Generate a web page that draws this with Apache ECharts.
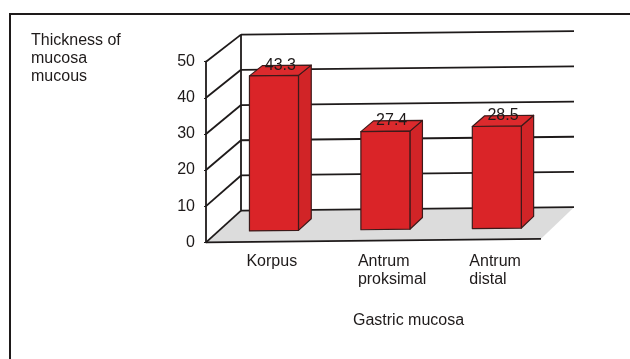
<!DOCTYPE html>
<html>
<head>
<meta charset="utf-8">
<script src="https://cdn.jsdelivr.net/npm/echarts@6/dist/echarts.min.js"></script>
<style>
  html, body { margin: 0; padding: 0; background: #fff; }
  #chart { width: 630px; height: 359px; }
</style>
</head>
<body>
<div id="chart"></div>
<script>
// Mucosa thickness per stomach region
const categories = ['Korpus', 'Antrum\nproksimal', 'Antrum\ndistal'];
const thickness = [43.3, 27.4, 28.5];
const valueTicks = [0, 10, 20, 30, 40, 50];
const yAxisTitle = 'Thickness of\nmucosa\nmucous';
const xAxisTitle = 'Gastric mucosa';

const FONT = "'Liberation Sans', Arial, sans-serif";
const FONT_SIZE = 16;
const INK = '#1e1a1a';

// Oblique box projection: depth 0 is the front plane (the grid), depth 1 the back wall.
const DEPTH = { dx: 35, dy: -31.25, sx: 0.994, sy: 0.975, tilt: -0.0105 };
const BAR_DEPTH = [0.35, 0.72];
const BAR_WIDTH = 0.44;

function projector(ox, oy) {
  return function (x, y, d) {
    const px = ox + (x - ox) * (1 + (DEPTH.sx - 1) * d) + DEPTH.dx * d;
    let py = oy + (y - oy) * (1 + (DEPTH.sy - 1) * d) + DEPTH.dy * d;
    py += DEPTH.tilt * (px - ox);
    return [px, py];
  };
}

function plotFrame(api) {
  const bw = api.size([1, 0])[0];
  const first = api.coord([0, 0]);
  const last = api.coord([categories.length - 1, 0]);
  return { bw: bw, left: first[0] - bw / 2, right: last[0] + bw / 2, base: first[1] };
}

function segment(a, b) {
  return {
    type: 'line',
    shape: { x1: a[0], y1: a[1], x2: b[0], y2: b[1] },
    style: { stroke: INK, lineWidth: 1.8 }
  };
}

// Floor, side wall and back wall gridlines
function renderFrame(params, api) {
  const v = api.value(1);
  const f = plotFrame(api);
  const P = projector(f.left, f.base);
  const y = api.coord([0, v])[1];
  const children = [];
  if (params.dataIndex === 0) {
    const top = api.coord([0, valueTicks[valueTicks.length - 1]])[1];
    children.push({
      type: 'polygon',
      shape: { points: [P(f.left, f.base, 0), P(f.right, f.base, 0), P(f.right, f.base, 1), P(f.left, f.base, 1)] },
      style: { fill: '#dcdcdc' }
    });
    children.push(segment(P(f.left, f.base, 0), P(f.right, f.base, 0)));
    children.push(segment(P(f.left, f.base, 1), P(f.left, top, 1)));
  }
  children.push(segment(P(f.left, y, 0), P(f.left, y, 1)));
  children.push(segment(P(f.left, y, 1), P(f.right, y, 1)));
  return { type: 'group', children: children };
}

// Box-shaped bars with value and category labels
function renderBar(params, api) {
  const i = api.value(0);
  const v = api.value(1);
  const f = plotFrame(api);
  const P = projector(f.left, f.base);
  const c = api.coord([i, v]);
  const half = f.bw * BAR_WIDTH / 2;
  const xl = c[0] - half, xr = c[0] + half, yt = c[1], yb = f.base;
  const d1 = BAR_DEPTH[0], d2 = BAR_DEPTH[1];
  const FTL = P(xl, yt, d1), FTR = P(xr, yt, d1), FBL = P(xl, yb, d1), FBR = P(xr, yb, d1);
  const BTL = P(xl, yt, d2), BTR = P(xr, yt, d2), BBR = P(xr, yb, d2);
  const edge = { stroke: '#3d1a1a', lineWidth: 1.2, lineJoin: 'round' };
  const labelX = P(c[0], yt, (d1 + d2) / 2)[0];
  const labelY = P(c[0], yt, d2)[1];
  return {
    type: 'group',
    children: [
      { type: 'polygon', shape: { points: [FTR, BTR, BBR, FBR] }, style: Object.assign({ fill: '#d12427' }, edge) },
      { type: 'polygon', shape: { points: [FTL, FTR, BTR, BTL] }, style: Object.assign({ fill: '#dc2a2d' }, edge) },
      { type: 'polygon', shape: { points: [FTL, FTR, FBR, FBL] }, style: Object.assign({ fill: '#da2428' }, edge) },
      {
        type: 'text',
        style: {
          text: String(v), x: labelX, y: labelY,
          fill: INK, fontSize: FONT_SIZE, fontFamily: FONT,
          align: 'center', verticalAlign: 'middle'
        }
      },
      {
        type: 'text',
        style: {
          text: categories[i], x: FBL[0] - 3, y: yb + 10.5,
          fill: INK, fontSize: FONT_SIZE, fontFamily: FONT, lineHeight: 18,
          align: 'left', verticalAlign: 'top'
        }
      }
    ]
  };
}

const chart = echarts.init(document.getElementById('chart'), null, { renderer: 'canvas' });
const titleStyle = { fontSize: FONT_SIZE, fontWeight: 'normal', lineHeight: 18, color: INK, fontFamily: FONT };

chart.setOption({
  animation: false,
  backgroundColor: '#fff',
  graphic: [{
    type: 'rect',
    shape: { x: 10, y: 14, width: 700, height: 400 },
    style: { fill: 'none', stroke: INK, lineWidth: 2 },
    silent: true
  }],
  title: [
    { text: yAxisTitle, left: 31, top: 31.5, padding: 0, textStyle: titleStyle },
    { text: xAxisTitle, left: 353, top: 311.5, padding: 0, textStyle: titleStyle }
  ],
  grid: { left: 206, top: 61.7, width: 335, height: 180.6 },
  xAxis: {
    type: 'category',
    data: categories,
    axisLine: { show: false },
    axisTick: { show: false },
    axisLabel: { show: false },
    splitLine: { show: false }
  },
  yAxis: {
    type: 'value',
    min: 0, max: 50, interval: 10,
    z: 5,
    axisLine: { show: true, lineStyle: { color: INK, width: 1.8 } },
    axisTick: { show: true, length: 2, lineStyle: { color: INK } },
    splitLine: { show: false },
    axisLabel: { color: INK, fontSize: FONT_SIZE, fontFamily: FONT, margin: 11 }
  },
  series: [
    {
      type: 'custom',
      name: 'frame',
      data: valueTicks.map(function (v) { return [0, v]; }),
      encode: { x: 0, y: 1 },
      renderItem: renderFrame,
      clip: false,
      silent: true,
      z: 1
    },
    {
      type: 'custom',
      name: 'Thickness',
      data: thickness.map(function (v, i) { return [i, v]; }),
      encode: { x: 0, y: 1 },
      renderItem: renderBar,
      clip: false,
      z: 3
    }
  ]
});
</script>
</body>
</html>
